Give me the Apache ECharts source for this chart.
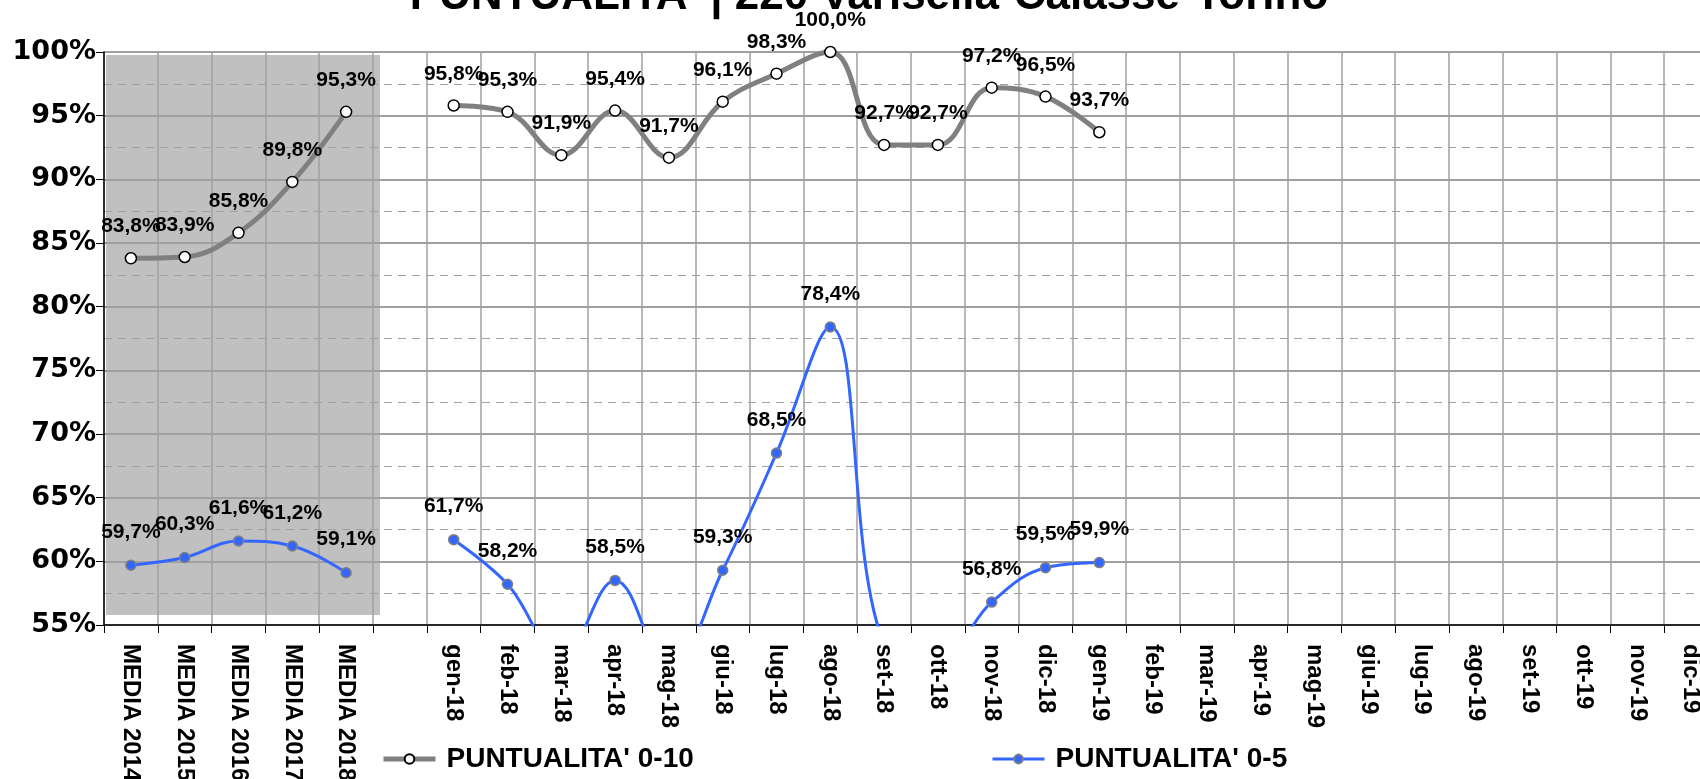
<!DOCTYPE html>
<html>
<head>
<meta charset="utf-8">
<script src="https://cdn.jsdelivr.net/npm/echarts@6/dist/echarts.min.js"></script>
<style>
  html, body { margin: 0; padding: 0; background: #fff; }
  #chart { width: 1700px; height: 779px; }
</style>
</head>
<body>
<div id="chart"></div>
<script>
// categorie asse x: 5 medie annuali, una colonna vuota, 24 mesi
const categories = [
  'MEDIA 2014', 'MEDIA 2015', 'MEDIA 2016', 'MEDIA 2017', 'MEDIA 2018', '',
  'gen-18', 'feb-18', 'mar-18', 'apr-18', 'mag-18', 'giu-18',
  'lug-18', 'ago-18', 'set-18', 'ott-18', 'nov-18', 'dic-18',
  'gen-19', 'feb-19', 'mar-19', 'apr-19', 'mag-19', 'giu-19',
  'lug-19', 'ago-19', 'set-19', 'ott-19', 'nov-19', 'dic-19'
]
// puntualita' 0-10 minuti
const punt010 = [
  83.8, 83.9, 85.8, 89.8, 95.3, null,
  95.8, 95.3, 91.9, 95.4, 91.7, 96.1,
  98.3, 100.0, 92.7, 92.7, 97.2, 96.5,
  93.7, null, null, null, null, null,
  null, null, null, null, null, null
]
// puntualita' 0-5 minuti (mar, mag, set, ott sotto la scala: stimati)
const punt05 = [
  59.7, 60.3, 61.6, 61.2, 59.1, null,
  61.7, 58.2, 52.5, 58.5, 51.5, 59.3,
  68.5, 78.4, 53.5, 52.3, 56.8, 59.5,
  59.9, null, null, null, null, null,
  null, null, null, null, null, null
]
const yTicks = { min: 55, max: 100, step: 5 }

const FONT = "'Liberation Sans', Arial, sans-serif"
const chart = echarts.init(document.getElementById('chart'))

//etichette dati con virgola decimale
const fmtPct = p => (p.value == null ? '' : p.value.toFixed(1).replace('.', ',') + '%')

const gridLeft = 104
const gridTop = 52
const gridWidth = 1614
const gridHeight = 573

const legendText = { fontFamily: FONT, fontSize: 28, fontWeight: 'bold', color: '#000', padding: [0, 0, 0, 6] }
const dataLabel = { show: true, position: 'top', formatter: fmtPct, fontFamily: FONT, fontSize: 21, fontWeight: 'bold', color: '#000' }

const option = {
  animation: false,
  backgroundColor: '#fff',
  title: {
    text: "PUNTUALITA' | 220 Varisella-Calasse-Torino",
    left: 864,
    textAlign: 'center',
    top: -30,
    textStyle: { fontFamily: FONT, fontSize: 44, fontWeight: 'bold', color: '#000' }
  },
  legend: [{
    data: ["PUNTUALITA' 0-10"],
    left: 376,
    top: 740,
    itemWidth: 52,
    itemHeight: 12,
    lineStyle: { width: 5, color: '#808080' },
    textStyle: legendText
  }, {
    data: ["PUNTUALITA' 0-5"],
    left: 986,
    top: 740,
    itemWidth: 52,
    itemHeight: 11,
    lineStyle: { width: 3, color: '#3366ff' },
    textStyle: legendText
  }],
  grid: {
    left: gridLeft, top: gridTop, width: gridWidth, height: gridHeight,
    containLabel: false,
    outerBoundsMode: 'none'
  },
  xAxis: {
    type: 'category',
    data: categories,
    boundaryGap: true,
    axisLine: { show: true, lineStyle: { color: '#000', width: 1.5 } },
    axisTick: { show: true, interval: 0, length: 8, lineStyle: { color: '#000' } },
    axisLabel: {
      interval: 0,
      rotate: -90,
      margin: 19,
      fontFamily: FONT,
      fontSize: 24,
      fontWeight: 'bold',
      color: '#000'
    },
    splitLine: { show: true, interval: 0, lineStyle: { color: '#a0a0a0', width: 1.5 } }
  },
  yAxis: {
    type: 'value',
    min: yTicks.min,
    max: yTicks.max,
    interval: yTicks.step,
    axisLine: { show: true, lineStyle: { color: '#000', width: 1.5 } },
    axisTick: { show: true, length: 8, lineStyle: { color: '#000' } },
    axisLabel: {
      formatter: '{value}%',
      margin: 8,
      fontFamily: "'DejaVu Sans', sans-serif",
      fontSize: 27,
      fontWeight: 'bold',
      color: '#000'
    },
    splitLine: { show: true, lineStyle: { color: '#a0a0a0', width: 2 } },
    minorTick: { show: false, splitNumber: 2 },
    minorSplitLine: { show: true, lineStyle: { color: '#a0a0a0', width: 1, type: [8, 6] } }
  },
  series: [{
    name: "PUNTUALITA' 0-10",
    type: 'line',
    data: punt010,
    smooth: 0.4,
    symbol: 'circle',
    symbolSize: 11,
    lineStyle: { color: '#808080', width: 5 },
    itemStyle: { color: '#fff', borderColor: '#000', borderWidth: 1.5 },
    label: Object.assign({ distance: 15 }, dataLabel),
    z: 3
  }, {
    name: "PUNTUALITA' 0-5",
    type: 'line',
    data: punt05,
    smooth: 0.4,
    symbol: 'circle',
    symbolSize: 10,
    lineStyle: { color: '#3366ff', width: 3 },
    itemStyle: { color: '#3366ff', borderColor: '#808080', borderWidth: 1.5 },
    label: Object.assign({ distance: 17 }, dataLabel),
    z: 3
  }]
}
chart.setOption(option)

//riquadro grigio dietro le medie annuali
const band = gridWidth / categories.length
const xFirst = chart.convertToPixel({ xAxisIndex: 0 }, categories[0])
const xLast = chart.convertToPixel({ xAxisIndex: 0 }, categories[4])
const yTop = chart.convertToPixel({ yAxisIndex: 0 }, yTicks.max)
const yBottom = chart.convertToPixel({ yAxisIndex: 0 }, yTicks.min)
chart.setOption({
  graphic: [{
    type: 'rect',
    silent: true,
    z: -1,
    shape: {
      x: xFirst - band / 2 + 2,
      y: yTop + 3,
      width: (xLast - xFirst) + band + 5,
      height: (yBottom - yTop) - 13
    },
    style: { fill: '#c0c0c0' }
  }]
})
</script>
</body>
</html>
